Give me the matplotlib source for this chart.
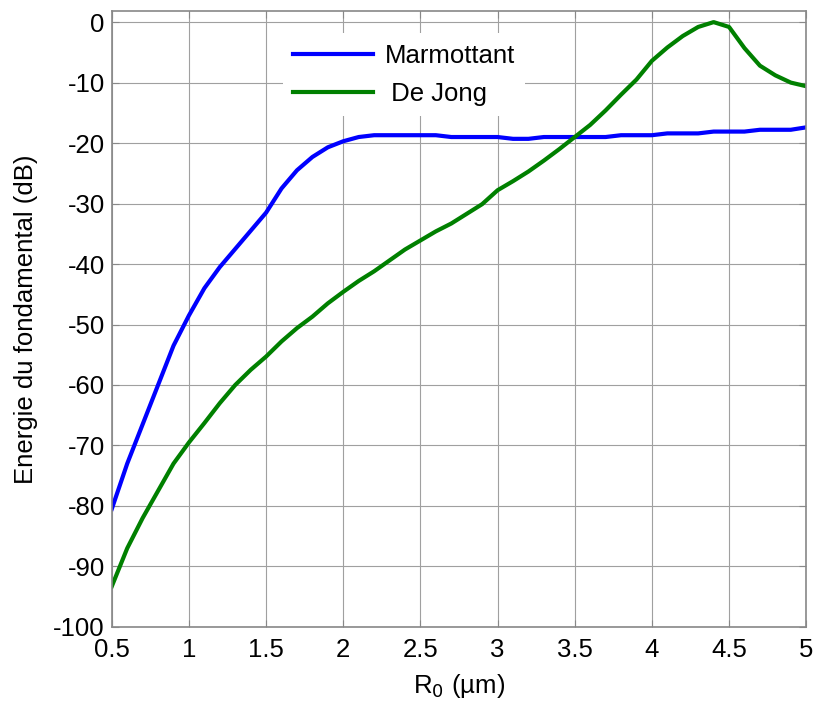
import numpy as np
import matplotlib.pyplot as plt

plt.rcParams['font.family'] = ['Liberation Sans', 'DejaVu Sans']
plt.rcParams['axes.unicode_minus'] = False

R0 = [0.5, 0.6, 0.7, 0.8, 0.9, 1.0, 1.1, 1.2, 1.3, 1.4, 1.5, 1.6, 1.7, 1.8, 1.9,
      2.0, 2.1, 2.2, 2.3, 2.4, 2.5, 2.6, 2.7, 2.8, 2.9, 3.0, 3.1, 3.2, 3.3, 3.4,
      3.5, 3.6, 3.7, 3.8, 3.9, 4.0, 4.1, 4.2, 4.3, 4.4, 4.5, 4.6, 4.7, 4.8, 4.9, 5.0]

marmottant = [-80.5, -73, -66.5, -60, -53.5, -48.5, -44, -40.5, -37.5, -34.5,
              -31.5, -27.5, -24.5, -22.3, -20.7, -19.7, -19, -18.7, -18.7, -18.7,
              -18.7, -18.7, -19, -19, -19, -19, -19.3, -19.3, -19, -19,
              -19, -19, -19, -18.7, -18.7, -18.7, -18.4, -18.4, -18.4, -18.1,
              -18.1, -18.1, -17.8, -17.8, -17.8, -17.4]

de_jong = [-93.3, -87, -82, -77.5, -73, -69.5, -66.3, -63, -60, -57.5,
           -55.3, -52.8, -50.6, -48.7, -46.5, -44.6, -42.8, -41.2, -39.4, -37.6,
           -36.1, -34.6, -33.3, -31.7, -30.1, -27.8, -26.3, -24.7, -22.9, -21,
           -19, -17, -14.6, -12, -9.5, -6.4, -4.2, -2.3, -0.8, 0,
           -0.8, -4.3, -7.2, -8.8, -10, -10.6]

fig = plt.figure(figsize=(8.16, 7.02), dpi=100)
ax = fig.add_axes([0.137, 0.107, 0.851, 0.877])

ax.plot(R0, marmottant, color=(0, 0, 1), lw=3, label='Marmottant')
ax.plot(R0, de_jong, color=(0, 0.5, 0), lw=3, label=' De Jong')

ax.set_xlim(0.5, 5)
ax.set_ylim(-100, 1.8)
ax.set_xticks(np.arange(0.5, 5.01, 0.5))
ax.set_xticklabels(['0.5', '1', '1.5', '2', '2.5', '3', '3.5', '4', '4.5', '5'])
ax.set_yticks(np.arange(-100, 1, 10))
ax.grid(True, color='#a0a0a0', lw=0.8)
ax.tick_params(direction='in', labelsize=18.5, colors='#888888', labelcolor='black',
               top=True, right=True, length=5)
ax.tick_params(axis='x', pad=8)
ax.tick_params(axis='y', pad=5)
for s in ax.spines.values():
    s.set_color('#888888')
    s.set_linewidth(1.2)

ax.set_xlabel('R$_0$ (\u00b5m)', fontsize=18.5, labelpad=7)
ax.set_ylabel('Energie du fondamental (dB)', fontsize=18.5, labelpad=11)

leg = ax.legend(loc='upper left', bbox_to_anchor=(0.228, 0.985), fontsize=18.5,
                frameon=True, framealpha=1, edgecolor='white', fancybox=False,
                handlelength=3.1, handletextpad=0.45, labelspacing=0.55,
                borderpad=0.4)
leg.get_frame().set_linewidth(0)

fig.savefig('out.png', dpi=100)
